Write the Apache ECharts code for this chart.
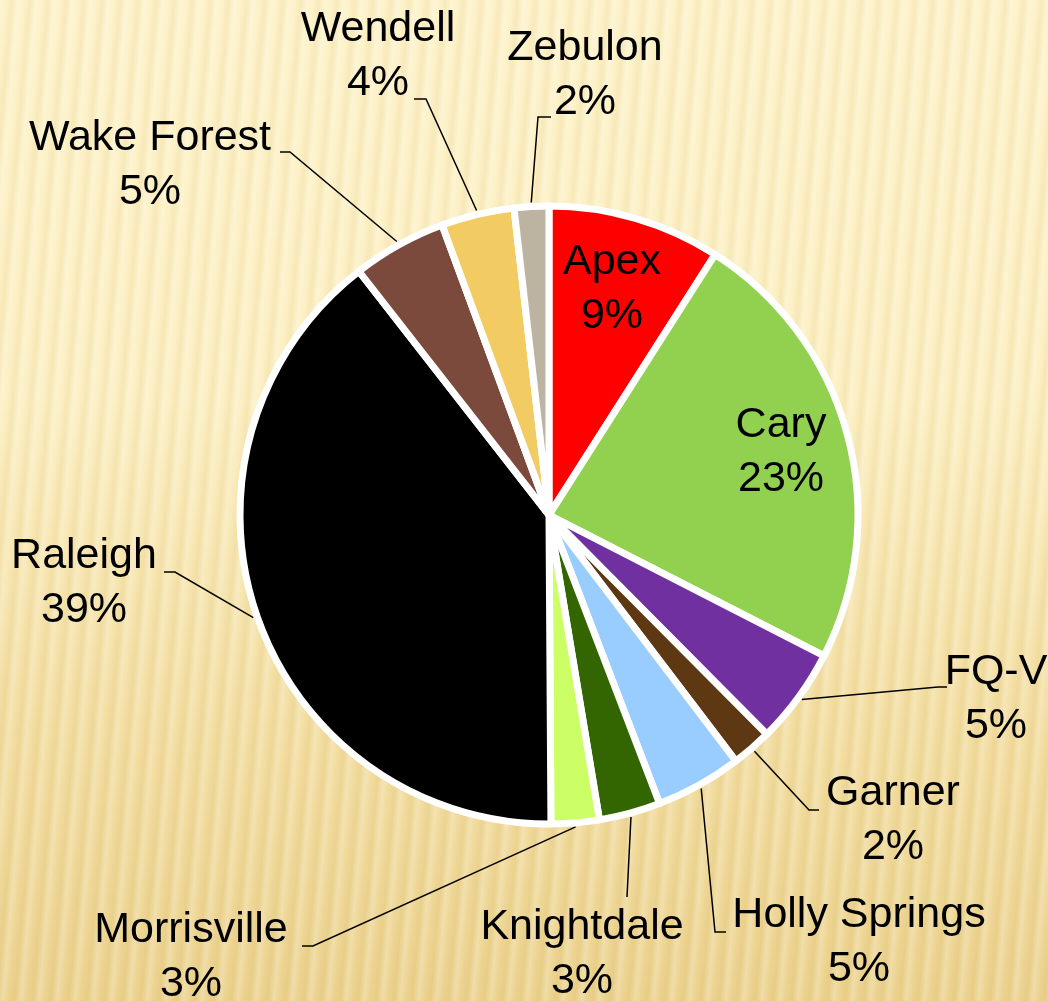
<!DOCTYPE html>
<html>
<head>
<meta charset="utf-8">
<title>Wake County towns</title>
<script src="https://cdn.jsdelivr.net/npm/echarts@6.0.0/dist/echarts.min.js"></script>
<style>
  html, body { margin: 0; padding: 0; }
  #main {
    width: 1048px;
    height: 1001px;
    background:
      repeating-linear-gradient(95deg,
        rgba(255, 255, 255, 0.22) 0px,
        rgba(255, 255, 255, 0) 6px,
        rgba(185, 145, 45, 0.09) 12px,
        rgba(255, 255, 255, 0.22) 18px),
      linear-gradient(to bottom, #fdf2c9 0%, #fcefc2 40%, #f3dea2 72%, #ebd28e 100%);
  }
</style>
</head>
<body>
<div id="main"></div>
<script>
const towns = ['Apex', 'Cary', 'FQ-V', 'Garner', 'Holly Springs', 'Knightdale',
  'Morrisville', 'Raleigh', 'Wake Forest', 'Wendell', 'Zebulon'];
const shares = [9.0, 23.4, 5.0, 2.1, 4.5, 3.2, 2.5, 39.4, 4.9, 3.8, 1.8];
const sliceColors = ['#ff0000', '#92d050', '#7030a0', '#5e3813', '#99ccff', '#336600',
  '#ccff66', '#000000', '#7b4a3c', '#f2cb63', '#bcb3a1'];
const insideLabels = ['Apex', 'Cary'];

// label spots as placed in the original: text centre x, first baseline,
// and the leader's elbow / end next to the text
const labelSpots = {
  'Apex': { x: 612, base: 277 },
  'Cary': { x: 781, base: 440 },
  'FQ-V': { x: 996, base: 687, elbow: [938, 687], end: [947, 687] },
  'Garner': { x: 893, base: 808, elbow: [809, 810], end: [819, 810] },
  'Holly Springs': { x: 859, base: 930, elbow: [715, 932], end: [726, 932] },
  'Knightdale': { x: 582, base: 942, elbow: [627, 897], end: [627, 897] },
  'Morrisville': { x: 191, base: 945, elbow: [313, 946], end: [302, 946] },
  'Raleigh': { x: 84, base: 571, elbow: [175, 572], end: [164, 572] },
  'Wake Forest': { x: 150, base: 153, elbow: [290, 152], end: [280, 152] },
  'Wendell': { x: 378, base: 44, elbow: [426, 99], end: [414, 99] },
  'Zebulon': { x: 585, base: 63, elbow: [538, 117], end: [551, 117] }
};

const fontName = 'Liberation Sans';
const textStyle = { fontFamily: fontName, fontSize: 43, lineHeight: 54, color: '#000', align: 'center' };

let chartDom = document.getElementById('main');
let myChart = echarts.init(chartDom);
let option;

option = {
  backgroundColor: 'transparent',
  animation: false,
  series: [
    {
      type: 'pie',
      center: [549, 515],
      radius: 309,
      startAngle: 90,
      clockwise: true,
      avoidLabelOverlap: false,
      itemStyle: {
        borderColor: '#ffffff',
        borderWidth: 7,
        borderJoin: 'round'
      },
      label: {
        show: true,
        color: '#000',
        fontFamily: fontName,
        fontSize: 43,
        formatter: function (p) {
          return '{n|' + p.name + '}\n{p|' + Math.round(p.value) + '%}';
        },
        rich: {
          n: textStyle,
          p: textStyle
        }
      },
      labelLine: {
        show: true,
        length: 15,
        length2: 10,
        lineStyle: {
          color: '#000',
          width: 1.5
        }
      },
      labelLayout: function (p) {
        const spot = labelSpots[towns[p.dataIndex]];
        const out = { x: spot.x, y: spot.base - 42, align: 'center', verticalAlign: 'top' };
        if (spot.elbow && p.labelLinePoints) {
          const a = p.labelLinePoints[0];
          const b = p.labelLinePoints[1];
          const len = Math.hypot(b[0] - a[0], b[1] - a[1]) || 1;
          // start just outside the white rim
          const start = [a[0] + (b[0] - a[0]) / len * 4, a[1] + (b[1] - a[1]) / len * 4];
          out.labelLinePoints = [start, spot.elbow, spot.end];
        }
        return out;
      },
      data: towns.map(function (name, i) {
        const inside = insideLabels.indexOf(name) >= 0;
        return {
          name: name,
          value: shares[i],
          itemStyle: { color: sliceColors[i] },
          label: { position: inside ? 'inside' : 'outside' },
          labelLine: { show: !inside }
        };
      })
    }
  ]
};

option && myChart.setOption(option);
</script>
</body>
</html>
